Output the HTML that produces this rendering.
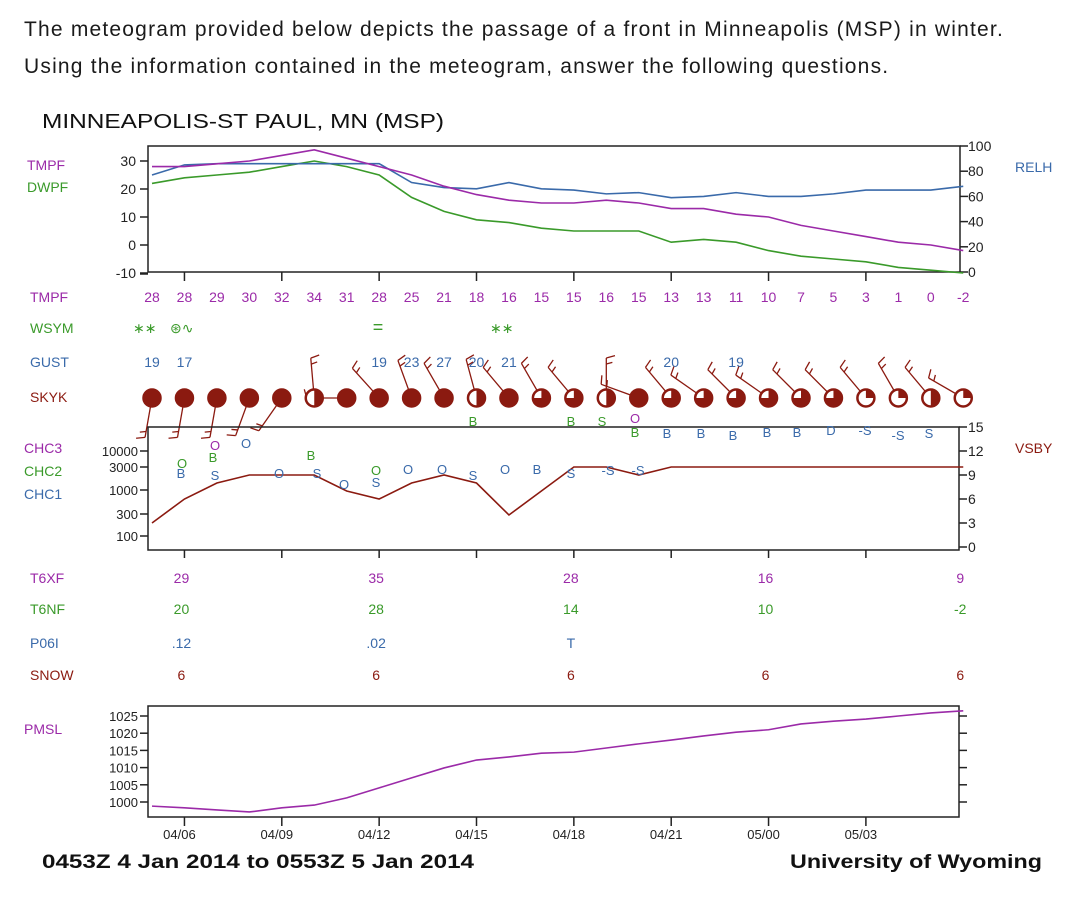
<!DOCTYPE html>
<html><head><meta charset="utf-8">
<style>
body{margin:0;background:#fff;width:1080px;height:906px;overflow:hidden;font-family:"Liberation Sans",sans-serif}
.q{position:absolute;left:24px;font-size:21px;letter-spacing:1.2px;color:#1a1a1a}
svg{position:absolute;left:0;top:0}
svg text{font-family:"Liberation Sans",sans-serif}
</style></head><body>
<div class="q" style="top:18px">The meteogram provided below depicts the passage of a front in Minneapolis (MSP) in winter.</div>
<div class="q" style="top:55px">Using the information contained in the meteogram, answer the following questions.</div>
<svg id="c" width="1080" height="906"></svg>
<script>
const tmpf=[28,28,29,30,32,34,31,28,25,21,18,16,15,15,16,15,13,13,11,10,7,5,3,1,0,-2];
const dwpf=[22,24,25,26,28,30,28,25,17,12,9,8,6,5,5,5,1,2,1,-2,-4,-5,-6,-8,-9,-10];
const relh=[77,85,86,86,86,86,86,86,71,67,66,71,66,65,62,63,59,60,63,60,60,62,65,65,65,68];
const vsby=[3,6,8,9,9,9,7,6,8,9,8,4,7,10,10,9,10,10,10,10,10,10,10,10,10,10];
const pmsl=[998.8,998.3,997.7,997.1,998.3,999.1,1001.2,1004.1,1007,1009.9,1012.2,1013.1,1014.2,1014.5,1015.7,1016.9,1018,1019.2,1020.3,1021,1022.7,1023.5,1024.1,1025,1025.9,1026.5];
const gustIdx=[0,1,7,8,9,10,11,16,18];
const gustVal=[19,17,19,23,27,20,21,20,19];
const sky=[4,4,4,4,4,2,4,4,4,4,2,4,3,3,2,4,3,3,3,3,3,3,1,1,2,1];
const windDir=[190,190,190,200,215,355,270,318,340,330,345,320,330,320,0,290,320,305,315,305,315,315,320,330,320,300];
const timeLabels=["04/06","04/09","04/12","04/15","04/18","04/21","05/00","05/03"];
const t6Idx=[1,7,13,19,25];
const t6xf=["29","35","28","16","9"];
const t6nf=["20","28","14","10","-2"];
const p06i=[".12",".02","T","",""];
const snow=["6","6","6","6","6"];
const clouds=[["O",182,463,"#3a9a2a"],["B",213,457,"#3a9a2a"],["B",311,455,"#3a9a2a"],["O",376,470,"#3a9a2a"],["B",473,421,"#3a9a2a"],["B",571,421,"#3a9a2a"],["S",602,421,"#3a9a2a"],["B",635,432,"#3a9a2a"],
["O",215,445,"#9b2aa8"],["O",635,418,"#9b2aa8"],
["B",181,473,"#3a6aaa"],["S",215,475,"#3a6aaa"],["O",246,443,"#3a6aaa"],["O",279,473,"#3a6aaa"],["S",317,473,"#3a6aaa"],["O",344,484,"#3a6aaa"],["S",376,482,"#3a6aaa"],["O",408,469,"#3a6aaa"],["O",442,469,"#3a6aaa"],["S",473,475,"#3a6aaa"],["O",505,469,"#3a6aaa"],["B",537,469,"#3a6aaa"],["S",571,473,"#3a6aaa"],["-S",608,470,"#3a6aaa"],["-S",638,470,"#3a6aaa"],["B",667,433,"#3a6aaa"],["B",701,433,"#3a6aaa"],["B",733,435,"#3a6aaa"],["B",767,432,"#3a6aaa"],["B",797,432,"#3a6aaa"],["D",831,430,"#3a6aaa"],["-S",865,430,"#3a6aaa"],["-S",898,435,"#3a6aaa"],["S",929,433,"#3a6aaa"]];

const P="#9b2aa8",G="#3a9a2a",B="#3a6aaa",R="#8b1a10";
const X=i=>152+i*32.45, Ty=v=>245-v*2.8, Ry=v=>272-v*1.26, Vy=v=>547-v*8, Py=v=>802-(v-1000)*3.44;
const svg=document.getElementById('c');const NS="http://www.w3.org/2000/svg";
function el(t,a,txt){const e=document.createElementNS(NS,t);for(const k in a)e.setAttribute(k,a[k]);if(txt!==undefined)e.textContent=txt;svg.appendChild(e);return e;}
function T(x,y,s,c,sz,anc,name){const e=el('text',{x:x,y:y,fill:c,'font-size':sz||14,'text-anchor':anc||'start'},s);

return e;}
function L(x1,y1,x2,y2,c,w){return el('line',{x1,y1,x2,y2,stroke:c||'#222','stroke-width':w||1.5});}
function poly(arr,f,c,name){const p=el('polyline',{points:arr.map((v,i)=>X(i)+','+f(v)).join(' '),fill:'none',stroke:c,'stroke-width':1.6});

}

const tt=T(42,128,"MINNEAPOLIS-ST PAUL, MN (MSP)","#111",20,'start','station-title');
tt.setAttribute('textLength','402');tt.setAttribute('lengthAdjust','spacingAndGlyphs');
// top panel
el('rect',{x:148,y:146,width:812,height:126,fill:'none',stroke:'#222','stroke-width':1.5});
L(140,274,148,274);
[30,20,10,0,-10].forEach(v=>{L(140,Ty(v),148,Ty(v));T(136,Ty(v)+5,String(v),'#222',14,'end','tmpf-tick');});
[100,80,60,40,20,0].forEach(v=>{L(960,Ry(v),968,Ry(v));T(968,Ry(v)+5,String(v),'#222',14,'start','relh-tick');});
T(27,170,"TMPF",P,14,'start','tmpf-axis-title');T(27,192,"DWPF",G,14,'start','dwpf-axis-title');T(1015,172,"RELH",B,14,'start','relh-axis-title');
poly(dwpf,Ty,G,'dwpf-line');poly(relh,Ry,B,'relh-line');poly(tmpf,Ty,P,'tmpf-line');
for(let k=0;k<8;k++){L(X(1+3*k),272,X(1+3*k),281);}
// rows
T(30,302,"TMPF",P,14,'start','tmpf-row-label');T(30,333,"WSYM",G,14,'start','wsym-row-label');T(30,367,"GUST",B,14,'start','gust-row-label');T(30,402,"SKYK",R,14,'start','skyk-row-label');
tmpf.forEach((v,i)=>T(X(i),302,String(v),P,14,'middle','tmpf-value'));
gustIdx.forEach((ix,k)=>T(X(ix),367,String(gustVal[k]),B,14,'middle','gust-value'));
T(133,333,"∗∗",G,14,'start','wsym-snow');T(170,333,"⊛∿",G,14,'start','wsym-symbol');T(378,333,"=",G,18,'middle','wsym-fog');T(490,333,"∗∗",G,14,'start','wsym-snow');
// wind barbs & sky
windDir.forEach((d,i)=>{const cx=X(i),cy=398,r=d*Math.PI/180,len=40;
const ex=cx+Math.sin(r)*len,ey=cy-Math.cos(r)*len;L(cx,cy,ex,ey,R,1.3);
const px=Math.sin(r+1.3)*9,py=-Math.cos(r+1.3)*9;L(ex,ey,ex+px,ey+py,R,1.3);
const mx=cx+Math.sin(r)*(len-6),my=cy-Math.cos(r)*(len-6);L(mx,my,mx+px*0.7,my+py*0.7,R,1.3);});
sky.forEach((s,i)=>{const cx=X(i),cy=398;
const c=el('circle',{cx,cy,r:8.5,fill:s==4?R:'#fff',stroke:R,'stroke-width':2.5});


if(s==3)el('path',{d:`M${cx},${cy} L${cx},${cy-8} A8,8 0 1,1 ${cx-8},${cy} Z`,fill:R});
if(s==2){el('path',{d:`M${cx},${cy-8} A8,8 0 0,1 ${cx},${cy+8} Z`,fill:R});}
if(s==1)el('path',{d:`M${cx},${cy} L${cx},${cy-8} A8,8 0 0,1 ${cx+8},${cy} Z`,fill:R});});
// middle panel
el('rect',{x:148,y:427,width:811,height:123,fill:'none',stroke:'#222','stroke-width':1.5});
[[10000,451],[3000,467],[1000,490],[300,514],[100,536]].forEach(a=>{L(140,a[1],148,a[1]);T(138,a[1]+5,String(a[0]),'#222',13,'end','ceiling-tick');});
[15,12,9,6,3,0].forEach(v=>{L(959,Vy(v),967,Vy(v));T(968,Vy(v)+5,String(v),'#222',14,'start','vsby-tick');});
T(24,453,"CHC3",P,14,'start','chc3-label');T(24,476,"CHC2",G,14,'start','chc2-label');T(24,499,"CHC1",B,14,'start','chc1-label');T(1015,453,"VSBY",R,14,'start','vsby-axis-title');
poly(vsby,Vy,R,'vsby-line');
clouds.forEach(c=>T(c[1],c[2]+5,c[0],c[3],13,'middle','cloud-code'));
for(let k=0;k<8;k++){L(X(1+3*k),550,X(1+3*k),558);}
// forecast rows
[["T6XF",583,P,t6xf],["T6NF",614,G,t6nf],["P06I",648,B,p06i],["SNOW",680,R,snow]].forEach(r=>{T(30,r[1],r[0],r[2],14,'start','mos-row-label');r[3].forEach((v,k)=>T(X(t6Idx[k])-3,r[1],v,r[2],14,'middle','mos-value'));});
// pmsl
el('rect',{x:148,y:706,width:811,height:111,fill:'none',stroke:'#222','stroke-width':1.5});
[1025,1020,1015,1010,1005,1000].forEach(v=>{L(140,Py(v),148,Py(v));L(959,Py(v),967,Py(v));T(138,Py(v)+5,String(v),'#222',13,'end','pmsl-tick');});
T(24,734,"PMSL",P,14,'start','pmsl-axis-title');
poly(pmsl,Py,P,'pmsl-line');
timeLabels.forEach((s,k)=>{const x=X(1+3*k);L(x,817,x,826);T(x-5,839,s,'#222',13,'middle','time-label');});
const d1=T(42,868,"0453Z  4 Jan 2014 to 0553Z  5 Jan 2014","#111",19,'start','date-range');
d1.setAttribute('textLength','432');d1.setAttribute('lengthAdjust','spacingAndGlyphs');d1.setAttribute('font-weight','bold');
const d2=T(1042,868,"University of Wyoming","#111",19,'end','credit');
d2.setAttribute('textLength','252');d2.setAttribute('lengthAdjust','spacingAndGlyphs');d2.setAttribute('font-weight','bold');
</script>
</body></html>
